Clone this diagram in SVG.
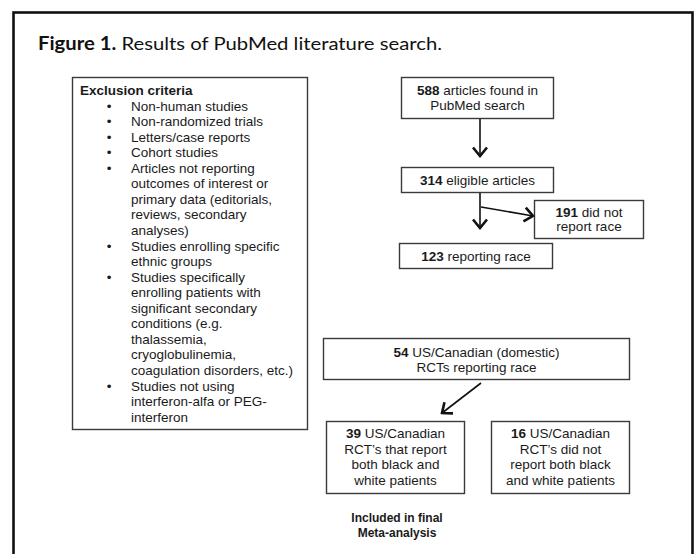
<svg xmlns="http://www.w3.org/2000/svg" width="700" height="554" viewBox="0 0 700 554">
<style>
.box{fill:#fff;stroke:#3a3a3a;stroke-width:1.4}
.t{font-family:"Liberation Sans",Arial,sans-serif;font-size:13.5px;fill:#1a1a1a}
.c{text-anchor:middle}
.b{font-weight:bold}
.conn{stroke:#111;stroke-width:1.6;fill:none}
.title{font-family:Lato,"DejaVu Sans",sans-serif;font-size:18px;fill:#111}
.inc{font-family:"Liberation Sans",Arial,sans-serif;font-size:12px;font-weight:bold;fill:#1a1a1a;text-anchor:middle}
</style>
<defs>
<marker id="ah" viewBox="-11 -9 13 18" refX="0" refY="0" markerWidth="13" markerHeight="18" markerUnits="userSpaceOnUse" orient="auto">
<path d="M-8.5,-7 L0,0 L-8.5,7" fill="none" stroke="#111" stroke-width="2.6"/>
</marker>
</defs>
<rect x="0" y="0" width="700" height="554" fill="#fff"/>
<rect id="frame" x="13.5" y="12.5" width="679" height="600" fill="none" stroke="#111" stroke-width="2.6"/>
<text class="title" x="38" y="50" textLength="404" lengthAdjust="spacingAndGlyphs"><tspan font-weight="bold">Figure 1.</tspan> Results of PubMed literature search.</text>

<g id="exclusion">
<rect class="box" x="72.5" y="77.5" width="235" height="352"/>
<text class="t b" x="80" y="95">Exclusion criteria</text>
<g class="t c">
<text x="109" y="110.5">•</text>
<text x="109" y="126.1">•</text>
<text x="109" y="141.7">•</text>
<text x="109" y="157.2">•</text>
<text x="109" y="172.8">•</text>
<text x="109" y="250.5">•</text>
<text x="109" y="281.6">•</text>
<text x="109" y="390.5">•</text>
</g>
<text class="t">
<tspan x="131" y="110.5">Non-human studies</tspan>
<tspan x="131" y="126.1">Non-randomized trials</tspan>
<tspan x="131" y="141.7">Letters/case reports</tspan>
<tspan x="131" y="157.2">Cohort studies</tspan>
<tspan x="131" y="172.8">Articles not reporting</tspan>
<tspan x="131" y="188.3">outcomes of interest or</tspan>
<tspan x="131" y="203.9">primary data (editorials,</tspan>
<tspan x="131" y="219.4">reviews, secondary</tspan>
<tspan x="131" y="235">analyses)</tspan>
<tspan x="131" y="250.5">Studies enrolling specific</tspan>
<tspan x="131" y="266">ethnic groups</tspan>
<tspan x="131" y="281.6">Studies specifically</tspan>
<tspan x="131" y="297.2">enrolling patients with</tspan>
<tspan x="131" y="312.7">significant secondary</tspan>
<tspan x="131" y="328.3">conditions (e.g.</tspan>
<tspan x="131" y="343.8">thalassemia,</tspan>
<tspan x="131" y="359.4">cryoglobulinemia,</tspan>
<tspan x="131" y="374.9">coagulation disorders, etc.)</tspan>
<tspan x="131" y="390.5">Studies not using</tspan>
<tspan x="131" y="406">interferon-alfa or PEG-</tspan>
<tspan x="131" y="421.6">interferon</tspan>
</text>
</g>

<g id="n588">
<rect class="box" x="401.5" y="77.5" width="152" height="41"/>
<text class="t c" x="477.5" y="94.5"><tspan class="b">588</tspan> articles found in</text>
<text class="t c" x="477.5" y="110">PubMed search</text>
</g>
<g id="n314">
<rect class="box" x="401.5" y="167.5" width="152" height="25"/>
<text class="t c" x="477.5" y="184.5"><tspan class="b">314</tspan> eligible articles</text>
</g>
<g id="n191">
<rect class="box" x="534.5" y="200.5" width="109" height="38"/>
<text class="t c" x="589" y="217"><tspan class="b">191</tspan> did not</text>
<text class="t c" x="589" y="231">report race</text>
</g>
<g id="n123">
<rect class="box" x="399.5" y="243.5" width="153" height="25"/>
<text class="t c" x="476" y="260.5"><tspan class="b">123</tspan> reporting race</text>
</g>
<g id="n54">
<rect class="box" x="323.5" y="338.5" width="306" height="41"/>
<text class="t c" x="476.5" y="356.5"><tspan class="b">54</tspan> US/Canadian (domestic)</text>
<text class="t c" x="476.5" y="371.5">RCTs reporting race</text>
</g>
<g id="n39">
<rect class="box" x="326.5" y="421.5" width="138" height="72"/>
<text class="t c" x="395.5" y="438"><tspan class="b">39</tspan> US/Canadian</text>
<text class="t c" x="395.5" y="453.5">RCT’s that report</text>
<text class="t c" x="395.5" y="469">both black and</text>
<text class="t c" x="395.5" y="484.5">white patients</text>
</g>
<g id="n16">
<rect class="box" x="491.5" y="421.5" width="138" height="72"/>
<text class="t c" x="560.5" y="438"><tspan class="b">16</tspan> US/Canadian</text>
<text class="t c" x="560.5" y="453.5">RCT’s did not</text>
<text class="t c" x="560.5" y="469">report both black</text>
<text class="t c" x="560.5" y="484.5">and white patients</text>
</g>
<g id="included">
<text class="inc" x="397" y="521.5">Included in final</text>
<text class="inc" x="397" y="536.5">Meta-analysis</text>
</g>

<g id="connectors">
<line class="conn" x1="480" y1="119" x2="480" y2="156" marker-end="url(#ah)"/>
<line class="conn" x1="480" y1="193" x2="480" y2="228" marker-end="url(#ah)"/>
<line class="conn" x1="481" y1="207" x2="533" y2="216" marker-end="url(#ah)"/>
<line class="conn" x1="481" y1="383" x2="442" y2="413" marker-end="url(#ah)"/>
</g>
</svg>
